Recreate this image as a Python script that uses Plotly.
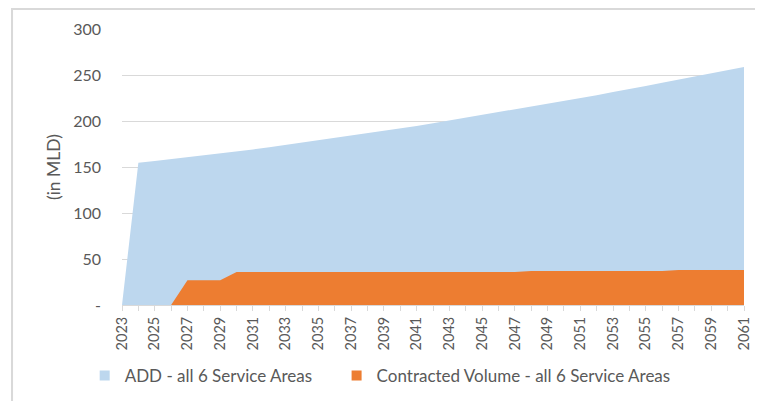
import plotly.graph_objs as go

years = list(range(2023, 2062))

add_all_areas = [0, 154.5, 156.5, 158.5, 160.5, 162.5, 164.5, 167, 169, 171.5,
                 174, 176.5, 179, 181.5, 184, 186.5, 189, 191.5, 194.5, 197.5,
                 200.5, 203.5, 206.5, 209.5, 213, 216, 219, 222, 225, 228,
                 231.5, 234.5, 238, 241.5, 245, 248.5, 252, 255.5, 258.7]

contracted = [0, 0, 0, 0, 27, 27, 27, 36, 36, 36,
              36, 36, 36, 36, 36, 36, 36, 36, 36, 36,
              36, 36, 36, 36, 36, 37, 37, 37, 37, 37,
              37, 37, 37, 37, 38, 38, 38, 38, 38]

series_names = ['ADD - all 6 Service Areas',
                'Contracted Volume - all 6 Service Areas']
series_colors = ['#BDD7EE', '#ED7D31']

y_tickvals = [0, 50, 100, 150, 200, 250, 300]
y_ticktext = ['-', '50', '100', '150', '200', '250', '300']
x_tickvals = list(range(2023, 2062, 2))

font = 'Lato, Open Sans, sans-serif'
grey = '#595959'
light = '#D9D9D9'

fig = go.Figure()
for values, name, color, leg in zip([add_all_areas, contracted], series_names,
                                    series_colors, ['legend', 'legend2']):
    fig.add_trace(go.Scatter(x=years, y=values, name=name,
                             mode='lines', fill='tozeroy',
                             line=dict(width=0, color=color),
                             fillcolor=color, showlegend=False))
    # small square swatch for the legend, like the spreadsheet chart
    fig.add_trace(go.Scatter(x=[None], y=[None], name=name, mode='markers',
                             legend=leg,
                             marker=dict(symbol='square', size=10, color=color)))

legend_style = dict(orientation='h', xanchor='left', y=-0.257, yanchor='middle',
                    font=dict(size=17, color=grey))

# the page has an 8px body margin, so the figure is a bit smaller than the window
fig.update_layout(width=755, height=393,
                  margin={'l': 114, 'r': 19, 't': 21, 'b': 96, 'autoexpand': False},
                  paper_bgcolor='white', plot_bgcolor='white',
                  font=dict(family=font, color=grey, size=16),
                  showlegend=True,
                  legend=dict(x=-0.06, **legend_style),
                  legend2=dict(x=0.345, **legend_style))

fig.update_xaxes(range=[2023, 2061], tickvals=x_tickvals, tickangle=-90,
                 tickfont=dict(size=14.5), automargin=False,
                 showgrid=False, showline=True, linecolor=light,
                 ticks='outside', ticklen=5, tickcolor=light,
                 minor=dict(ticks='outside', dtick=1, ticklen=5,
                            tickcolor=light, showgrid=False),
                 zeroline=False)
fig.update_yaxes(range=[0, 300], tickvals=y_tickvals, ticktext=y_ticktext,
                 tickfont=dict(size=16), automargin=False,
                 showgrid=True, gridcolor=light, zeroline=False,
                 showline=False, ticks='', ticklabelstandoff=20,
                 title=dict(text='(in MLD)', standoff=8,
                            font=dict(size=17.5, color=grey)))

# light frame round the chart
fig.add_shape(type='rect', xref='paper', yref='paper',
              x0=-0.1768, x1=1.1, y0=-0.5, y1=1.0725,
              line=dict(color=light, width=2), layer='below')

fig.write_html("out.html")
